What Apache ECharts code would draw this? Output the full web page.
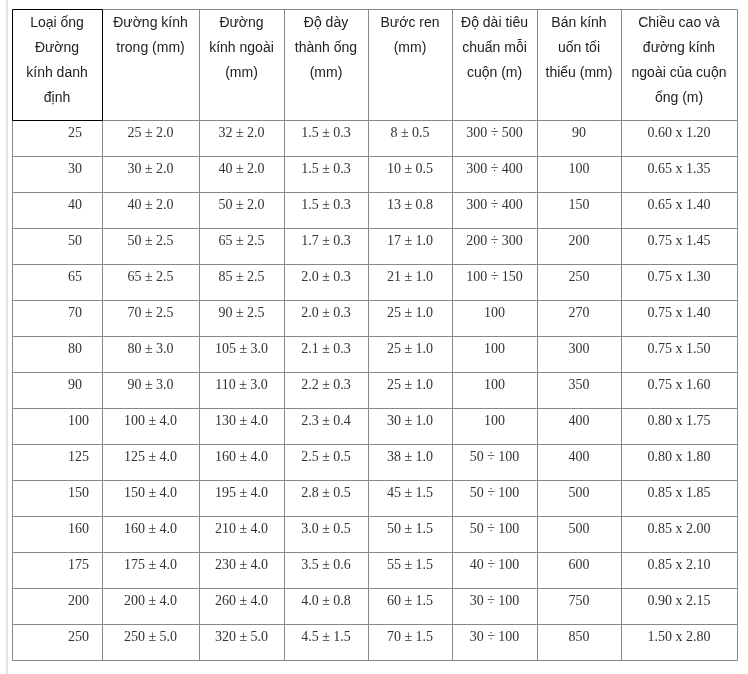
<!DOCTYPE html>
<html>
<head>
<meta charset="utf-8">
<script src="https://cdn.jsdelivr.net/npm/echarts@6/dist/echarts.min.js"></script>
<style>
  html, body { margin: 0; padding: 0; background: #fff; }
</style>
</head>
<body>
<div id="tableChart" style="width: 748px; height: 674px;"></div>
<script>
// header cells (line breaks as in the source table)
const headers = [
  'Loại ống\nĐường\nkính danh\nđịnh',
  'Đường kính\ntrong (mm)',
  'Đường\nkính ngoài\n(mm)',
  'Độ dày\nthành ống\n(mm)',
  'Bước ren\n(mm)',
  'Độ dài tiêu\nchuẩn mỗi\ncuộn (m)',
  'Bán kính\nuốn tối\nthiểu (mm)',
  'Chiều cao và\nđường kính\nngoài của cuộn\nống (m)'
];

const nominal = ['25', '30', '40', '50', '65', '70', '80', '90', '100', '125', '150', '160', '175', '200', '250'];
const innerDia = ['25 ± 2.0', '30 ± 2.0', '40 ± 2.0', '50 ± 2.5', '65 ± 2.5', '70 ± 2.5', '80 ± 3.0', '90 ± 3.0',
  '100 ± 4.0', '125 ± 4.0', '150 ± 4.0', '160 ± 4.0', '175 ± 4.0', '200 ± 4.0', '250 ± 5.0'];
const outerDia = ['32 ± 2.0', '40 ± 2.0', '50 ± 2.0', '65 ± 2.5', '85 ± 2.5', '90 ± 2.5', '105 ± 3.0', '110 ± 3.0',
  '130 ± 4.0', '160 ± 4.0', '195 ± 4.0', '210 ± 4.0', '230 ± 4.0', '260 ± 4.0', '320 ± 5.0'];
const wallThick = ['1.5 ± 0.3', '1.5 ± 0.3', '1.5 ± 0.3', '1.7 ± 0.3', '2.0 ± 0.3', '2.0 ± 0.3', '2.1 ± 0.3', '2.2 ± 0.3',
  '2.3 ± 0.4', '2.5 ± 0.5', '2.8 ± 0.5', '3.0 ± 0.5', '3.5 ± 0.6', '4.0 ± 0.8', '4.5 ± 1.5'];
const pitch = ['8 ± 0.5', '10 ± 0.5', '13 ± 0.8', '17 ± 1.0', '21 ± 1.0', '25 ± 1.0', '25 ± 1.0', '25 ± 1.0',
  '30 ± 1.0', '38 ± 1.0', '45 ± 1.5', '50 ± 1.5', '55 ± 1.5', '60 ± 1.5', '70 ± 1.5'];
const coilLength = ['300 ÷ 500', '300 ÷ 400', '300 ÷ 400', '200 ÷ 300', '100 ÷ 150', '100', '100', '100',
  '100', '50 ÷ 100', '50 ÷ 100', '50 ÷ 100', '40 ÷ 100', '30 ÷ 100', '30 ÷ 100'];
const bendRadius = ['90', '100', '150', '200', '250', '270', '300', '350', '400', '400', '500', '500', '600', '750', '850'];
const coilSize = ['0.60 x 1.20', '0.65 x 1.35', '0.65 x 1.40', '0.75 x 1.45', '0.75 x 1.30', '0.75 x 1.40', '0.75 x 1.50',
  '0.75 x 1.60', '0.80 x 1.75', '0.80 x 1.80', '0.85 x 1.85', '0.85 x 2.00', '0.85 x 2.10', '0.90 x 2.15', '1.50 x 2.80'];

const columns = [nominal, innerDia, outerDia, wallThick, pitch, coilLength, bendRadius, coilSize];

// layout
const colWidths = [90, 97, 85, 84, 84, 85, 84, 116];
const headerHeight = 111;
const rowHeight = 36;

let colStart = [0];
for (let w of colWidths) colStart.push(colStart[colStart.length - 1] + w);
const totalWidth = colStart[colStart.length - 1];
const totalHeight = headerHeight + nominal.length * rowHeight;

// one data item per cell: [col, row, text]  (row -1 = header)
let cells = [];
headers.forEach((h, c) => cells.push([c, -1, h]));
for (let r = 0; r < nominal.length; r++) {
  for (let c = 0; c < columns.length; c++) {
    cells.push([c, r, columns[c][r]]);
  }
}

function renderCell(params, api) {
  const c = api.value(0);
  const r = api.value(1);
  const text = cells[params.dataIndex][2];
  const x0 = colStart[c], x1 = colStart[c + 1];
  const y0 = r < 0 ? 0 : headerHeight + r * rowHeight;
  const y1 = r < 0 ? headerHeight : y0 + rowHeight;
  const p0 = api.coord([x0, y0]);
  const p1 = api.coord([x1, y1]);
  const isHeader = r < 0;
  const blackCell = isHeader && c === 0;

  let textEl;
  if (isHeader) {
    textEl = {
      type: 'text',
      style: {
        x: (p0[0] + p1[0]) / 2,
        y: p0[1] + 2,
        text: text,
        align: 'center',
        verticalAlign: 'top',
        lineHeight: 25,
        fill: '#222',
        font: '14px "Liberation Sans", Arial, sans-serif'
      }
    };
  } else {
    textEl = {
      type: 'text',
      style: {
        x: c === 0 ? p0[0] + 56 : (p0[0] + p1[0]) / 2,
        y: p0[1] + 13,
        text: text,
        align: c === 0 ? 'left' : 'center',
        verticalAlign: 'middle',
        fill: '#333',
        font: '14px "Liberation Serif", "Times New Roman", serif'
      }
    };
  }

  return {
    type: 'group',
    children: [
      {
        type: 'rect',
        z2: blackCell ? 10 : 1,
        shape: {
          x: Math.round(p0[0]) + 0.5,
          y: Math.round(p0[1]) + 0.5,
          width: Math.round(p1[0] - p0[0]),
          height: Math.round(p1[1] - p0[1])
        },
        style: {
          fill: 'rgba(0,0,0,0)',
          stroke: blackCell ? '#000' : '#888',
          lineWidth: 1
        }
      },
      textEl
    ]
  };
}

let option = {
  animation: false,
  backgroundColor: '#fff',
  grid: {
    left: 12,
    top: 9,
    width: totalWidth,
    height: totalHeight
  },
  xAxis: {
    type: 'value',
    min: 0,
    max: totalWidth,
    show: false
  },
  yAxis: {
    type: 'value',
    min: 0,
    max: totalHeight,
    inverse: true,
    show: false
  },
  graphic: [
    {
      type: 'rect',
      left: 6,
      top: 0,
      shape: { width: 2, height: 674 },
      style: { fill: '#e2e2e2' }
    }
  ],
  series: [
    {
      type: 'custom',
      renderItem: renderCell,
      encode: { x: 0, y: 1 },
      data: cells.map(d => [d[0], d[1]])
    }
  ]
};

let myChart = echarts.init(document.getElementById('tableChart'));
myChart.setOption(option);
</script>
</body>
</html>
